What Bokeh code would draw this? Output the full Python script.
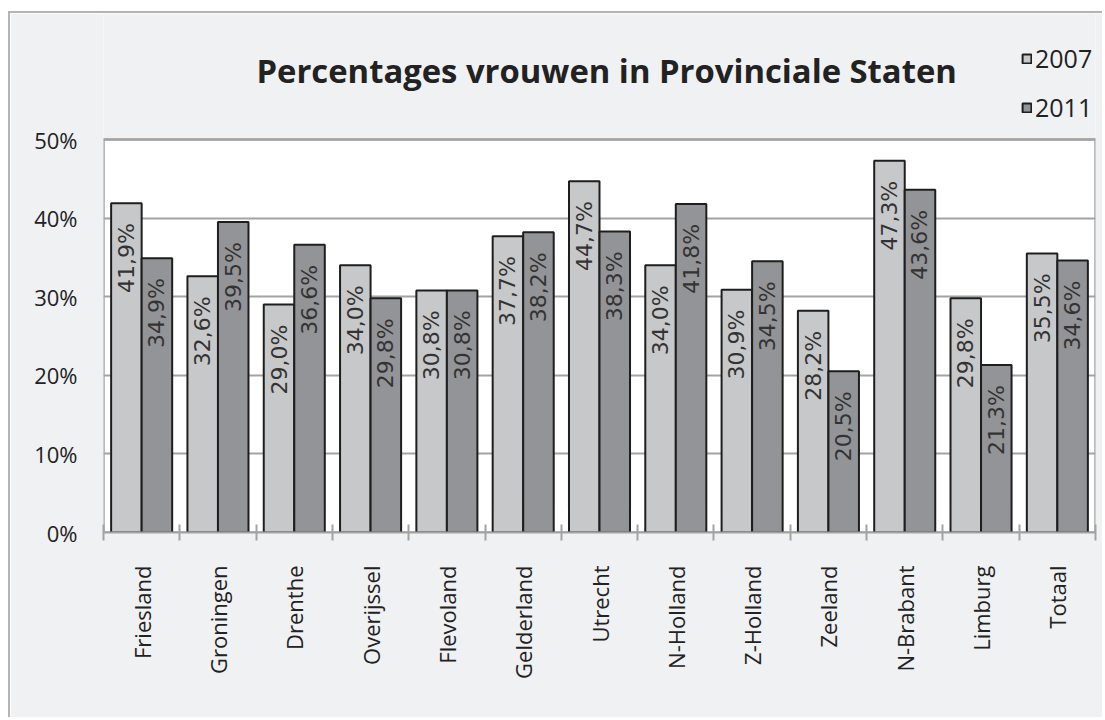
from math import pi
from bokeh.plotting import figure
from bokeh.models import (ColumnDataSource, Range1d, FixedTicker, Label, Legend, LegendItem)
from bokeh.core.properties import value
from bokeh.embed import file_html
from bokeh.resources import INLINE

# ---- data ----
categories = ["Friesland", "Groningen", "Drenthe", "Overijssel", "Flevoland", "Gelderland",
              "Utrecht", "N-Holland", "Z-Holland", "Zeeland", "N-Brabant", "Limburg", "Totaal"]
v2007 = [41.9, 32.6, 29.0, 34.0, 30.8, 37.7, 44.7, 34.0, 30.9, 28.2, 47.3, 29.8, 35.5]
v2011 = [34.9, 39.5, 36.6, 29.8, 30.8, 38.2, 38.3, 41.8, 34.5, 20.5, 43.6, 21.3, 34.6]
series_names = ["2007", "2011"]
y_ticks = [0, 10, 20, 30, 40, 50]
y_tick_labels = ["0%", "10%", "20%", "30%", "40%", "50%"]
title_text = "Percentages vrouwen in Provinciale Staten"

# ---- styles / layout ----
BG = "#f0f1f3"
GRID = "#a3a3a3"
C2007 = "#c7c8ca"
C2011 = "#939497"
EDGE = "#1e1e1e"
TXT = "#222222"
CANVAS_TOP = 13          # page y of canvas top (margin + border)
FRAME_BOTTOM = 532       # page y of the 0% line
PLOT_TOP = 139           # page y of the 50% line
FRAME_LEFT = 103
FRAME_W = 992
Y_MAX = 50
PX_PER_UNIT = (FRAME_BOTTOM - PLOT_TOP) / Y_MAX
Y_TOP = (FRAME_BOTTOM - CANVAS_TOP) / PX_PER_UNIT
LABEL_GAP = 20 / PX_PER_UNIT

n = len(categories)
PX_PER_CAT = FRAME_W / n

def fmt(v):
    return ("%.1f%%" % v).replace(".", ",")

src07 = ColumnDataSource(dict(x=[i + 0.3 for i in range(n)], top=v2007,
                              ly=[v - LABEL_GAP for v in v2007], lab=[fmt(v) for v in v2007]))
src11 = ColumnDataSource(dict(x=[i + 0.7 for i in range(n)], top=v2011,
                              ly=[v - LABEL_GAP for v in v2011], lab=[fmt(v) for v in v2011]))

p = figure(width=1094, height=706, x_range=Range1d(0, n), y_range=Range1d(0, Y_TOP),
           title=None, output_backend="svg", toolbar_location=None,
           min_border_left=FRAME_LEFT - 10, min_border_right=9, min_border_top=0,
           min_border_bottom=706 - (FRAME_BOTTOM - CANVAS_TOP),
           border_fill_color=BG, background_fill_color=BG, outline_line_color=None)
p.styles = {"margin-left": "8px", "margin-top": "11px",
            "border-left": "2px solid #b4b4b4", "border-top": "2px solid #b4b4b4"}

# plot area (white) with its border
pa = p.quad(left=[0], right=[n], bottom=[0], top=[Y_MAX], fill_color="white",
            line_color=GRID, line_width=2.5)
pa.level = "image"

p.xgrid.grid_line_color = None
p.ygrid.ticker = FixedTicker(ticks=y_ticks)
p.ygrid.grid_line_color = GRID
p.ygrid.grid_line_width = 2

# y axis
p.yaxis.ticker = FixedTicker(ticks=y_ticks)
p.yaxis.major_label_overrides = {t: l for t, l in zip(y_ticks, y_tick_labels)}
p.yaxis.major_tick_out = 0
p.yaxis.major_tick_in = 0
p.yaxis.minor_tick_out = 0
p.yaxis.minor_tick_in = 0
p.yaxis.axis_line_color = None
p.yaxis.major_label_standoff = 26
p.yaxis.major_label_text_font = "Open Sans"
p.yaxis.major_label_text_font_size = "22px"
p.yaxis.major_label_text_color = TXT

# x axis
centers = [i + 0.5 for i in range(n)]
p.xaxis.ticker = FixedTicker(ticks=centers, minor_ticks=list(range(n + 1)))
p.xaxis.major_label_overrides = {c: name for c, name in zip(centers, categories)}
p.xaxis.major_tick_out = 0
p.xaxis.major_tick_in = 0
p.xaxis.minor_tick_out = 8
p.xaxis.minor_tick_in = 8
p.xaxis.minor_tick_line_color = GRID
p.xaxis.minor_tick_line_width = 2
p.xaxis.axis_line_color = GRID
p.xaxis.axis_line_width = 2
p.xaxis.major_label_orientation = pi / 2
p.xaxis.major_label_standoff = 25
p.xaxis.major_label_text_font = "Open Sans"
p.xaxis.major_label_text_font_size = "22px"
p.xaxis.major_label_text_color = TXT

r07 = p.vbar(x="x", top="top", width=0.4, bottom=0, source=src07,
             fill_color=C2007, line_color=EDGE, line_width=2)
r11 = p.vbar(x="x", top="top", width=0.4, bottom=0, source=src11,
             fill_color=C2011, line_color=EDGE, line_width=2)

for s in (src07, src11):
    p.text(x="x", y="ly", text="lab", source=s, angle=pi / 2,
           text_align="right", text_baseline="middle",
           text_font=value("DejaVu Sans"), text_font_size="22px", text_color="#333333")

# title
p.add_layout(Label(x=(256 - FRAME_LEFT) / PX_PER_CAT, y=(FRAME_BOTTOM - 70) / PX_PER_UNIT,
                   text=title_text, text_font="Open Sans", text_font_style="bold",
                   text_font_size="32.8px", text_color=TXT,
                   text_align="left", text_baseline="alphabetic"))

legend = Legend(items=[LegendItem(label=value(series_names[0]), renderers=[r07]),
                       LegendItem(label=value(series_names[1]), renderers=[r11])],
                location=(918, 408), orientation="vertical",
                glyph_width=11, glyph_height=11, label_standoff=3, spacing=15,
                padding=0, margin=0, border_line_alpha=0, background_fill_alpha=0,
                label_text_font="Open Sans", label_text_font_size="25px",
                label_text_color=TXT)
p.add_layout(legend)

open("out.html", "w").write(file_html(p, INLINE))
